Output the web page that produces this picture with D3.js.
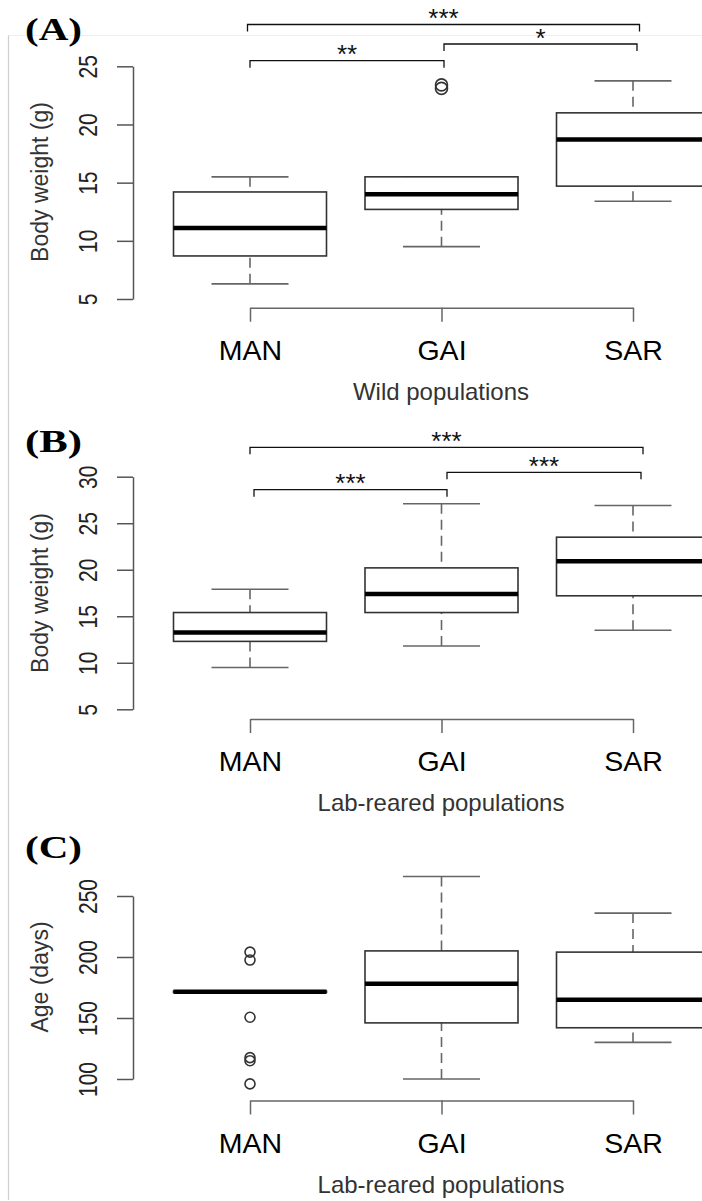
<!DOCTYPE html>
<html>
<head>
<meta charset="utf-8">
<script src="https://cdnjs.cloudflare.com/ajax/libs/d3/7.8.5/d3.min.js"></script>
<style>
  body { margin: 0; background: #fff; }
  svg { display: block; }
  text { font-family: "Liberation Sans", Arial, sans-serif; }
  text.tag { font-family: "Liberation Serif", "Times New Roman", serif; }
</style>
</head>
<body>
<script>
var W = 702, H = 1201;

var groups = ["MAN", "GAI", "SAR"];

// (A) wild populations, body weight (g)
var wildLow  = [6.3, 9.5, 13.4];
var wildQ1   = [8.7, 12.7, 14.7];
var wildMed  = [11.1, 14.0, 18.7];
var wildQ3   = [14.2, 15.5, 21.0];
var wildHigh = [15.5, 15.5, 23.75];
var wildOut  = [[], [23.1, 23.4], []];
var wildTicks = [5, 10, 15, 20, 25];
var wildSig = [["MAN", "GAI", "**"], ["GAI", "SAR", "*"], ["MAN", "SAR", "***"]];

// (B) lab-reared populations, body weight (g)
var labLow  = [9.5, 11.8, 13.5];
var labQ1   = [12.3, 15.4, 17.2];
var labMed  = [13.25, 17.4, 20.9];
var labQ3   = [15.4, 20.2, 23.5];
var labHigh = [17.9, 27.1, 26.9];
var labOut  = [[], [], []];
var labTicks = [5, 10, 15, 20, 25, 30];
var labSig = [["MAN", "GAI", "***"], ["GAI", "SAR", "***"], ["MAN", "SAR", "***"]];

// (C) lab-reared populations, age (days)
var ageLow  = [171, 100, 130];
var ageQ1   = [171, 146, 142];
var ageMed  = [171.5, 178, 165];
var ageQ3   = [172, 205, 204];
var ageHigh = [172, 266, 236];
var ageOut  = [[204, 197.5, 150.6, 117.5, 115, 96], [], []];
var ageTicks = [100, 150, 200, 250];

var svg = d3.select("body").append("svg")
  .attr("width", W)
  .attr("height", H);

// faint frame of the pasted figure
svg.append("line").attr("x1", 8.5).attr("x2", 8.5).attr("y1", 35).attr("y2", 1200)
  .attr("stroke", "#cfcfcf").attr("stroke-width", 1.2);
svg.append("line").attr("x1", 8.5).attr("x2", W).attr("y1", 35.5).attr("y2", 35.5)
  .attr("stroke", "#eeeeee").attr("stroke-width", 1);

var x = d3.scalePoint().domain(groups).range([250, 633]);
var boxW = 153, capW = 77;

var panels = [
  { tag: "(A)", tagY: 40, low: wildLow, q1: wildQ1, med: wildMed, q3: wildQ3, high: wildHigh, out: wildOut,
    ticks: wildTicks, dom: [5, 25], rng: [299, 66.3], axisY: 307.7, ylab: "Body weight (g)", ylabY: 182,
    xlab: "Wild populations", sig: wildSig, outR: 6,
    brk: [{ y: 60.7, l: 0, r: 2.5 }, { y: 44, l: 2.5, r: 4 }, { y: 24.5, l: -2.5, r: 6.5 }] },
  { tag: "(B)", tagY: 452, low: labLow, q1: labQ1, med: labMed, q3: labQ3, high: labHigh, out: labOut,
    ticks: labTicks, dom: [5, 30], rng: [709.3, 476.7], axisY: 719, ylab: "Body weight (g)", ylabY: 593,
    xlab: "Lab-reared populations", sig: labSig, outR: 6,
    brk: [{ y: 489.7, l: 4, r: 5.5 }, { y: 472.3, l: 5.5, r: 8 }, { y: 447.3, l: 0, r: 10 }] },
  { tag: "(C)", tagY: 858, low: ageLow, q1: ageQ1, med: ageMed, q3: ageQ3, high: ageHigh, out: ageOut,
    ticks: ageTicks, dom: [100, 250], rng: [1079, 896], axisY: 1100.5, ylab: "Age (days)", ylabY: 977,
    xlab: "Lab-reared populations", sig: [], outR: 5, brk: [] }
];

panels.forEach(function(p) {
  var y = d3.scaleLinear().domain(p.dom).range(p.rng);
  var g = svg.append("g");

  // panel tag
  g.append("text")
    .attr("class", "tag")
    .attr("x", 25).attr("y", p.tagY)
    .attr("font-weight", "bold")
    .attr("font-size", 32)
    .attr("textLength", 57)
    .attr("lengthAdjust", "spacingAndGlyphs")
    .text(p.tag);

  // y axis
  var ya = g.append("g")
    .attr("transform", "translate(133,0)")
    .call(d3.axisLeft(y).tickValues(p.ticks).tickSize(16).tickSizeOuter(0));
  ya.select(".domain").attr("stroke", "#555").attr("stroke-width", 1.5);
  ya.selectAll(".tick line").attr("stroke", "#555").attr("stroke-width", 1.5);
  ya.selectAll(".tick text")
    .attr("x", null).attr("dy", null)
    .attr("transform", "translate(-36,0) scale(1.25,1) rotate(-90)")
    .attr("text-anchor", "middle")
    .attr("font-size", 21)
    .attr("fill", "#222");

  g.append("text")
    .attr("transform", "translate(48," + p.ylabY + ") rotate(-90)")
    .attr("text-anchor", "middle")
    .attr("font-size", 23)
    .attr("fill", "#333")
    .text(p.ylab);

  // x axis
  var xa = g.append("g")
    .attr("transform", "translate(0," + p.axisY + ")")
    .call(d3.axisBottom(x).tickSize(14).tickSizeOuter(0));
  xa.select(".domain").attr("stroke", "#666").attr("stroke-width", 1.5);
  xa.selectAll(".tick line").attr("stroke", "#666").attr("stroke-width", 1.5);
  xa.selectAll(".tick text")
    .attr("y", 52).attr("dy", null)
    .attr("font-size", 28.5)
    .attr("fill", "#000");

  g.append("text")
    .attr("x", 441).attr("y", p.axisY + 92)
    .attr("text-anchor", "middle")
    .attr("font-size", 24)
    .attr("fill", "#333")
    .text(p.xlab);

  // boxes
  groups.forEach(function(k, i) {
    var cx = x(k);
    var bg = g.append("g");
    // whiskers
    [[p.high[i], p.q3[i]], [p.low[i], p.q1[i]]].forEach(function(w) {
      bg.append("line")
        .attr("x1", cx).attr("x2", cx)
        .attr("y1", y(w[0])).attr("y2", y(w[1]))
        .attr("stroke", "#666").attr("stroke-width", 1.6)
        .attr("stroke-dasharray", "10,6");
      bg.append("line")
        .attr("x1", cx - capW / 2).attr("x2", cx + capW / 2)
        .attr("y1", y(w[0])).attr("y2", y(w[0]))
        .attr("stroke", "#666").attr("stroke-width", 1.6);
    });
    bg.append("rect")
      .attr("x", cx - boxW / 2).attr("width", boxW)
      .attr("y", y(p.q3[i])).attr("height", y(p.q1[i]) - y(p.q3[i]))
      .attr("fill", "#fff")
      .attr("stroke", "#333").attr("stroke-width", 1.6);
    bg.append("line")
      .attr("x1", cx - boxW / 2).attr("x2", cx + boxW / 2)
      .attr("y1", y(p.med[i])).attr("y2", y(p.med[i]))
      .attr("stroke", "#000").attr("stroke-width", 4.5);
    bg.selectAll("circle.out")
      .data(p.out[i])
      .enter().append("circle")
      .attr("class", "out")
      .attr("cx", cx).attr("cy", function(d) { return y(d); })
      .attr("r", p.outR)
      .attr("fill", "none")
      .attr("stroke", "#333").attr("stroke-width", 1.6);
  });

  // significance brackets
  p.sig.forEach(function(s, j) {
    var b = p.brk[j];
    var x0 = x(s[0]) + b.l, x1 = x(s[1]) + b.r;
    g.append("path")
      .attr("d", "M" + x0 + "," + (b.y + 7) + "V" + b.y + "H" + x1 + "V" + (b.y + 7))
      .attr("fill", "none")
      .attr("stroke", "#111").attr("stroke-width", 1.3);
    g.append("text")
      .attr("x", (x0 + x1) / 2).attr("y", b.y + 2.5)
      .attr("text-anchor", "middle")
      .attr("font-size", 26)
      .attr("fill", "#111")
      .text(s[2]);
  });
});
</script>
</body>
</html>
